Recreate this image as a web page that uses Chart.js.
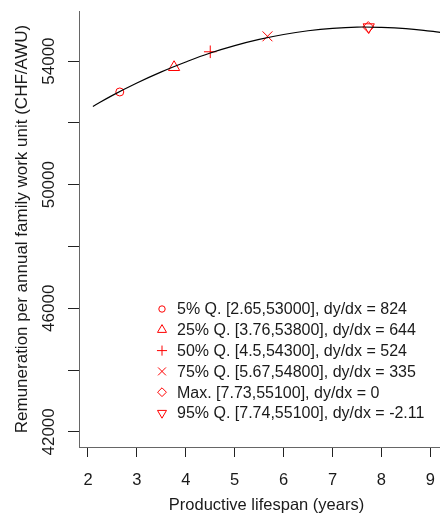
<!DOCTYPE html>
<html>
<head>
<meta charset="utf-8">
<script src="https://cdn.jsdelivr.net/npm/chart.js"></script>
<style>
  html, body { margin: 0; padding: 0; background: #fff; overflow: hidden; }
  #wrap { width: 440px; height: 516px; overflow: hidden; }
</style>
</head>
<body>
<div id="wrap"><canvas id="myChart" width="454" height="516"></canvas></div>
<script>
// fitted curve
const curveX = [2.1, 2.5, 3, 3.5, 4, 4.5, 5, 5.5, 6, 6.5, 7, 7.5, 8, 8.5, 9, 9.2];
const curveY = [52530, 52890, 53290, 53650, 53970, 54260, 54500, 54700, 54860, 54980, 55060, 55100, 55090, 55050, 54970, 54930];

// marked points
const markerLabels = [
  "5% Q. [2.65,53000], dy/dx = 824",
  "25% Q. [3.76,53800], dy/dx = 644",
  "50% Q. [4.5,54300], dy/dx = 524",
  "75% Q. [5.67,54800], dy/dx = 335",
  "Max. [7.73,55100], dy/dx = 0",
  "95% Q. [7.74,55100], dy/dx = -2.11",
];
const markerX = [2.65, 3.76, 4.5, 5.67, 7.73, 7.74];
const markerY = [53000, 53800, 54300, 54800, 55100, 55100];
const markerStyles = ["circle", "triangle", "cross", "crossRot", "rectRot", "triangle"];
const markerRot = [0, 0, 0, 0, 0, 180];
const markerSize = [4, 6.5, 6.3, 7, 5.5, 6.5];

const xTicks = [2, 3, 4, 5, 6, 7, 8, 9];
const yTicks = [42000, 44000, 46000, 48000, 50000, 52000, 54000];
const yTickLabels = [42000, 46000, 50000, 54000];

const red = "#ff0000";
const txt = "#1a1a1a";
const fontFam = "'Liberation Sans', Arial, sans-serif";

let datasets = [
  {
    type: "line",
    data: curveX.map((x, i) => ({ x: x, y: curveY[i] })),
    borderColor: "#000",
    borderWidth: 1.2,
    pointRadius: 0,
    tension: 0.4,
    fill: false,
  },
];
for (let i = 0; i < markerX.length; i++) {
  datasets.push({
    data: [{ x: markerX[i], y: markerY[i] }],
    pointStyle: markerStyles[i],
    pointRotation: markerRot[i],
    pointRadius: markerSize[i],
    borderColor: red,
    backgroundColor: "rgba(0,0,0,0)",
    borderWidth: 1,
  });
}

const extras = {
  id: "extras",
  afterDraw(chart) {
    const ctx = chart.ctx;
    const ys = chart.scales.y;
    ctx.save();
    ctx.fillStyle = txt;
    ctx.font = "17px " + fontFam;
    ctx.textAlign = "center";
    ctx.textBaseline = "middle";
    yTickLabels.forEach((v) => {
      ctx.save();
      ctx.translate(49, ys.getPixelForValue(v));
      ctx.rotate(-Math.PI / 2);
      ctx.fillText(String(v), 0, 0);
      ctx.restore();
    });
    // legend
    let lx = 162, ly = 309;
    ctx.font = "16px " + fontFam;
    ctx.textAlign = "left";
    for (let i = 0; i < markerLabels.length; i++) {
      let y = ly + i * 20.8;
      ctx.strokeStyle = red;
      ctx.fillStyle = "rgba(0,0,0,0)";
      ctx.lineWidth = 1;
      Chart.helpers.drawPoint(ctx, { pointStyle: markerStyles[i], rotation: markerRot[i], radius: markerSize[i] * 0.8, borderWidth: 1 }, lx, y);
      ctx.fillStyle = txt;
      ctx.fillText(markerLabels[i], 177, y + 1);
    }
    ctx.restore();
  },
};

const ctx = document.getElementById("myChart");
const myChart = new Chart(ctx, {
  type: "scatter",
  data: { datasets: datasets },
  options: {
    responsive: false,
    animation: false,
    layout: { autoPadding: false, padding: { top: 11, left: 0, right: 0, bottom: 0 } },
    plugins: { legend: { display: false }, tooltip: { enabled: false } },
    scales: {
      x: {
        type: "linear",
        min: 1.816,
        max: 9.484,
        afterBuildTicks: (s) => { s.ticks = xTicks.map((v) => ({ value: v })); },
        afterFit: (s) => { s.height = 69; s.paddingLeft = 0; s.paddingRight = 0; },
        ticks: { color: txt, font: { size: 16.5, family: fontFam }, padding: 14 },
        grid: { drawOnChartArea: false, drawTicks: true, tickLength: 10, color: "#222" },
        border: { color: "#666", width: 1 },
        title: { display: true, text: "Productive lifespan (years)", color: txt, font: { size: 16.5, family: fontFam }, padding: { top: 0, bottom: 1 } },
      },
      y: {
        min: 41510,
        max: 55620,
        afterBuildTicks: (s) => { s.ticks = yTicks.map((v) => ({ value: v })); },
        afterFit: (s) => { s.width = 79; },
        ticks: { display: false },
        grid: { drawOnChartArea: false, drawTicks: true, tickLength: 11, color: "#222" },
        border: { color: "#666", width: 1 },
        title: { display: true, text: "Remuneration per annual family work unit (CHF/AWU)", color: txt, font: { size: 17, family: fontFam }, padding: { top: 12, bottom: 0 } },
      },
    },
  },
  plugins: [extras],
});
</script>
</body>
</html>
